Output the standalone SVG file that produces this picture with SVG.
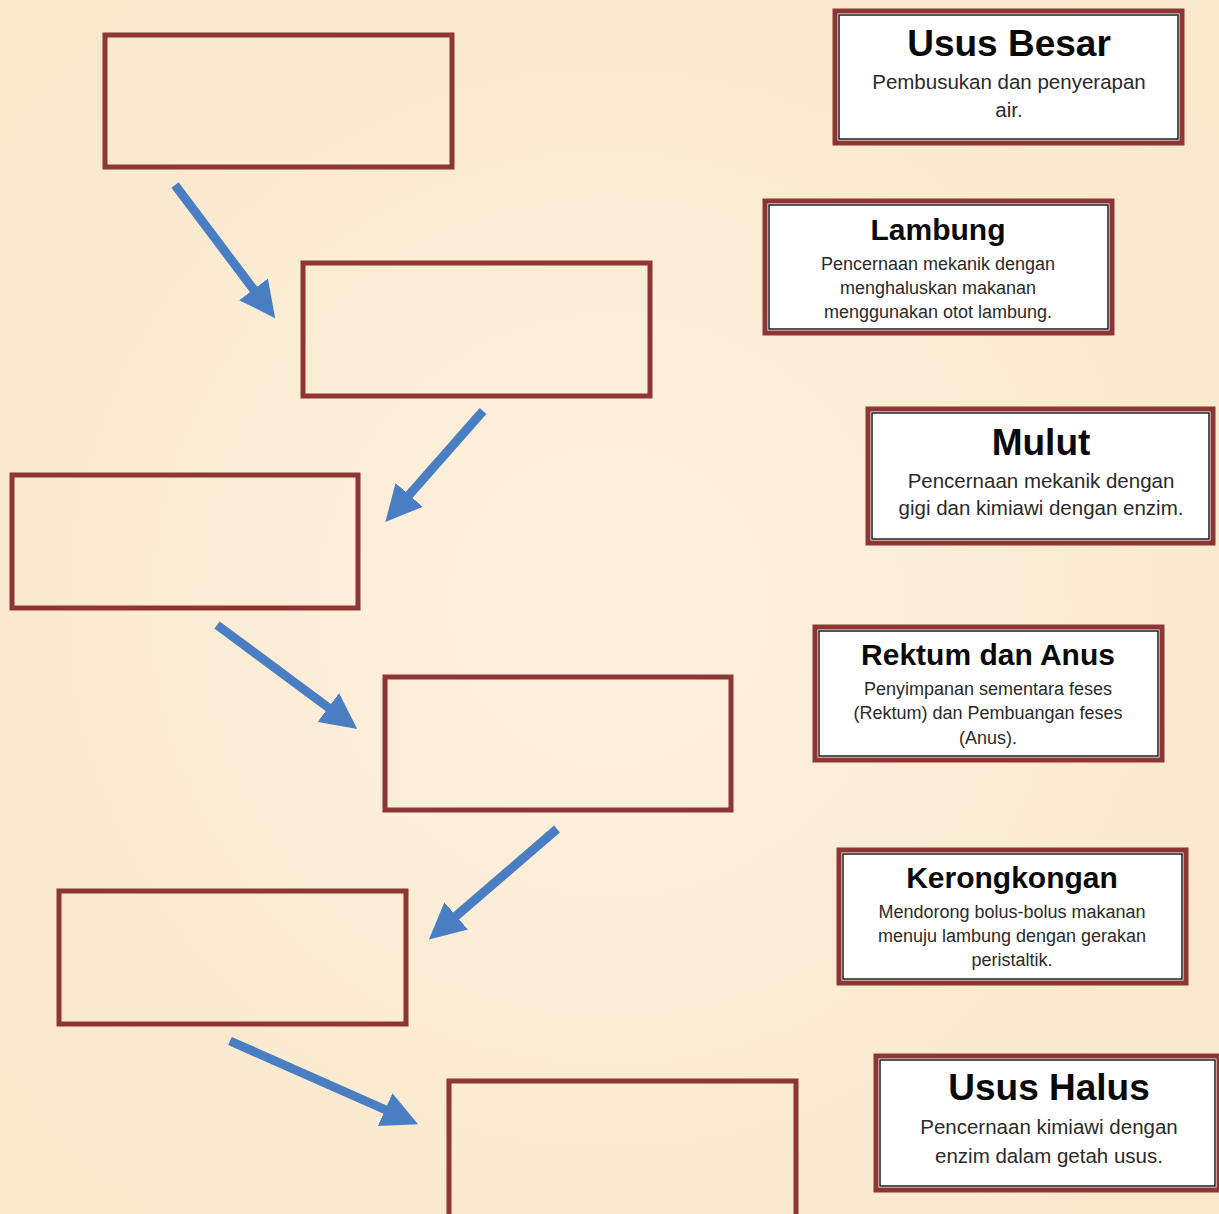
<svg xmlns="http://www.w3.org/2000/svg" width="1219" height="1214" viewBox="0 0 1219 1214">
<style>
.blank{fill:none;stroke:#8e3636;stroke-width:5}
.card{fill:#ffffff;stroke:#8e3636;stroke-width:5}
.inner{fill:none;stroke:#1e1e1e;stroke-width:1.5}
.title{font-family:"Liberation Sans",Arial,sans-serif;font-weight:bold;fill:#0a0a0a;text-anchor:middle}
.sub{font-family:"Liberation Sans",Arial,sans-serif;fill:#2a2a2a;text-anchor:middle}
.arrow{stroke:#4a7ec2;stroke-width:9;fill:none}
</style>
<defs>
<marker id="ah" markerWidth="4" markerHeight="4" refX="1.2" refY="2" orient="auto" markerUnits="strokeWidth">
<path d="M0,0 L4,2 L0,4 z" fill="#4a7ec2"/>
</marker>
<radialGradient id="bg" cx="0.5" cy="0.5" r="0.75">
<stop offset="0" stop-color="#fdf1de"/>
<stop offset="1" stop-color="#f9e6ca"/>
</radialGradient>
</defs>
<rect width="1219" height="1214" fill="url(#bg)"/>
<g id="blank1"><rect class="blank" x="105" y="35" width="347" height="132"/></g>
<g id="blank2"><rect class="blank" x="303" y="263" width="347" height="133"/></g>
<g id="blank3"><rect class="blank" x="12" y="475" width="346" height="133"/></g>
<g id="blank4"><rect class="blank" x="385" y="677" width="346" height="133"/></g>
<g id="blank5"><rect class="blank" x="59" y="891" width="347" height="133"/></g>
<g id="blank6"><rect class="blank" x="449" y="1081" width="347" height="140"/></g>
<g id="connectors">
<line class="arrow" x1="175" y1="185" x2="260" y2="298" marker-end="url(#ah)"/>
<line class="arrow" x1="483" y1="411" x2="402" y2="503" marker-end="url(#ah)"/>
<line class="arrow" x1="217" y1="625" x2="337" y2="714" marker-end="url(#ah)"/>
<line class="arrow" x1="557" y1="829" x2="448" y2="923" marker-end="url(#ah)"/>
<line class="arrow" x1="230" y1="1041" x2="395" y2="1114" marker-end="url(#ah)"/>
</g>
<g id="usus-besar">
<rect class="card" x="835" y="11" width="347" height="132"/>
<rect class="inner" x="839" y="15" width="339" height="124"/>
<text class="title" x="1009" y="56" font-size="37">Usus Besar</text>
<text class="sub" x="1009" y="89" font-size="20.5">Pembusukan dan penyerapan</text>
<text class="sub" x="1009" y="117" font-size="20.5">air.</text>
</g>
<g id="lambung">
<rect class="card" x="765" y="201" width="347" height="132"/>
<rect class="inner" x="769" y="205" width="339" height="124"/>
<text class="title" x="938" y="240" font-size="30">Lambung</text>
<text class="sub" x="938" y="270" font-size="18">Pencernaan mekanik dengan</text>
<text class="sub" x="938" y="294" font-size="18">menghaluskan makanan</text>
<text class="sub" x="938" y="318" font-size="18">menggunakan otot lambung.</text>
</g>
<g id="mulut">
<rect class="card" x="868" y="409" width="345" height="134"/>
<rect class="inner" x="872" y="413" width="337" height="126"/>
<text class="title" x="1041" y="455" font-size="37">Mulut</text>
<text class="sub" x="1041" y="488" font-size="20.5">Pencernaan mekanik dengan</text>
<text class="sub" x="1041" y="515" font-size="20.5">gigi dan kimiawi dengan enzim.</text>
</g>
<g id="rektum-dan-anus">
<rect class="card" x="815" y="627" width="347" height="133"/>
<rect class="inner" x="819" y="631" width="339" height="125"/>
<text class="title" x="988" y="665" font-size="30">Rektum dan Anus</text>
<text class="sub" x="988" y="695" font-size="18">Penyimpanan sementara feses</text>
<text class="sub" x="988" y="719" font-size="18">(Rektum) dan Pembuangan feses</text>
<text class="sub" x="988" y="744" font-size="18">(Anus).</text>
</g>
<g id="kerongkongan">
<rect class="card" x="839" y="850" width="347" height="133"/>
<rect class="inner" x="843" y="854" width="339" height="125"/>
<text class="title" x="1012" y="888" font-size="30">Kerongkongan</text>
<text class="sub" x="1012" y="918" font-size="18">Mendorong bolus-bolus makanan</text>
<text class="sub" x="1012" y="942" font-size="18">menuju lambung dengan gerakan</text>
<text class="sub" x="1012" y="966" font-size="18">peristaltik.</text>
</g>
<g id="usus-halus">
<rect class="card" x="876" y="1056" width="343" height="134"/>
<rect class="inner" x="880" y="1060" width="335" height="126"/>
<text class="title" x="1049" y="1100" font-size="37">Usus Halus</text>
<text class="sub" x="1049" y="1134" font-size="20.5">Pencernaan kimiawi dengan</text>
<text class="sub" x="1049" y="1163" font-size="20.5">enzim dalam getah usus.</text>
</g>
</svg>
